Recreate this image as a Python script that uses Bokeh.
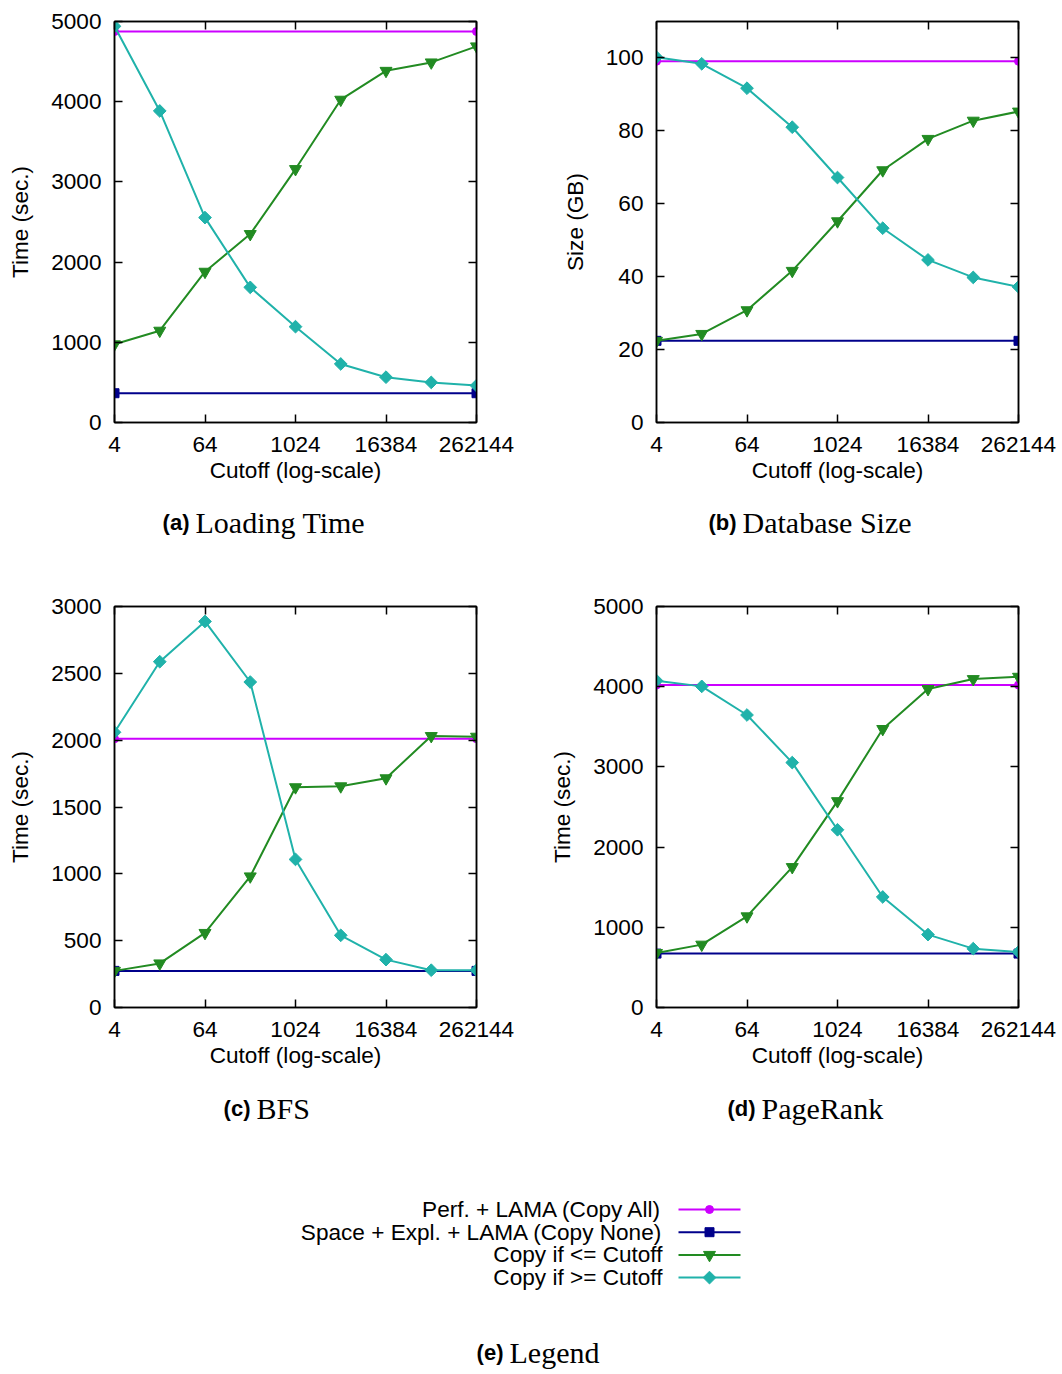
import numpy as np
from bokeh.plotting import figure
from bokeh.models import Range1d, FixedTicker, LinearAxis, LogAxis, NumeralTickFormatter
from bokeh.layouts import column, row
from bokeh.embed import file_html
from bokeh.resources import INLINE
from bokeh.core.properties import value

# ---------------- data ----------------
cutoffs = [4, 16, 64, 256, 1024, 4096, 16384, 65536, 262144]
x_ends = [4, 262144]
x_ticks = [4, 64, 1024, 16384, 262144]

load_copy_all = [4875, 4875]
load_copy_none = [365, 365]
load_le = [975, 1145, 1880, 2350, 3160, 4025, 4385, 4490, 4690]
load_ge = [4940, 3885, 2555, 1685, 1195, 730, 565, 500, 460]

size_copy_all = [99.1, 99.1]
size_copy_none = [22.4, 22.4]
size_le = [22.4, 24.3, 30.8, 41.6, 55.2, 69.2, 77.8, 82.8, 85.3]
size_ge = [100.2, 98.4, 91.7, 81.0, 67.2, 53.3, 44.6, 39.8, 37.2]

bfs_copy_all = [2010, 2010]
bfs_copy_none = [274, 274]
bfs_le = [274, 330, 558, 981, 1648, 1655, 1715, 2031, 2026]
bfs_ge = [2059, 2587, 2888, 2435, 1108, 540, 358, 279, 279]

pr_copy_all = [4021, 4021]
pr_copy_none = [672, 672]
pr_le = [680, 784, 1137, 1751, 2573, 3473, 3971, 4095, 4124]
pr_ge = [4075, 4004, 3647, 3054, 2216, 1378, 909, 734, 693]

series_names = ["Perf. + LAMA (Copy All)", "Space + Expl. + LAMA (Copy None)",
                "Copy if <= Cutoff", "Copy if >= Cutoff"]
series_colors = ["#cc00ff", "#00008b", "#228b22", "#20b2aa"]
series_markers = ["circle", "square", "inverted_triangle", "square"]
series_angles = [0.0, 0.0, 0.0, np.pi / 4]
series_sizes = [8, 9, 12, 9]

captions = [("(a)", "Loading Time"), ("(b)", "Database Size"),
            ("(c)", "BFS"), ("(d)", "PageRank"), ("(e)", "Legend")]

SANS = "Liberation Sans"
SERIF = "Liberation Serif"
FS = "22.6px"
PAGE_W = 1062


def style_axis(ax, standoff, label_standoff):
    ax.major_tick_in = 8
    ax.major_tick_out = 0
    ax.minor_tick_in = 0
    ax.minor_tick_out = 0
    ax.axis_line_color = "black"
    ax.axis_line_width = 1.5
    ax.major_tick_line_color = "black"
    ax.major_tick_line_width = 1.5
    ax.major_label_text_font = SANS
    ax.major_label_text_font_size = FS
    ax.major_label_text_color = "black"
    ax.major_label_standoff = standoff
    ax.axis_label_text_font = SANS
    ax.axis_label_text_font_size = FS
    ax.axis_label_text_font_style = "normal"
    ax.axis_label_text_color = "black"
    ax.axis_label_standoff = label_standoff


def mirror_axis(cls, ticker):
    ax = cls(ticker=ticker)
    ax.major_tick_in = 8
    ax.major_tick_out = 0
    ax.minor_tick_in = 0
    ax.minor_tick_out = 0
    ax.axis_line_color = "black"
    ax.axis_line_width = 1.5
    ax.major_tick_line_width = 1.5
    ax.major_label_text_font_size = "1px"
    ax.major_label_text_color = None
    ax.major_label_standoff = 0
    return ax


def panel(ylabel, y_max, y_ticks, copy_all, copy_none, le, ge, bl, br, bt, bb):
    p = figure(frame_width=362, frame_height=401, x_axis_type="log",
               x_range=Range1d(4, 262144), y_range=Range1d(0, y_max),
               output_backend="svg", toolbar_location=None,
               min_border_left=bl, min_border_right=br,
               min_border_top=bt, min_border_bottom=bb)
    p.grid.visible = False
    p.outline_line_color = "black"
    p.outline_line_width = 1.5
    xa = p.below[0]
    ya = p.left[0]
    xa.ticker = FixedTicker(ticks=x_ticks)
    xa.formatter = NumeralTickFormatter(format="0")
    xa.axis_label = "Cutoff (log-scale)"
    ya.ticker = FixedTicker(ticks=y_ticks)
    ya.axis_label = ylabel
    style_axis(xa, 14, 3)
    style_axis(ya, 13, 15)
    p.add_layout(mirror_axis(LinearAxis, FixedTicker(ticks=y_ticks)), "right")
    p.add_layout(mirror_axis(LogAxis, FixedTicker(ticks=x_ticks)), "above")

    data = [(x_ends, copy_all), (x_ends, copy_none), (cutoffs, le), (cutoffs, ge)]
    for (xs, ys), c, m, a, s in zip(data, series_colors, series_markers,
                                    series_angles, series_sizes):
        p.line(xs, ys, line_color=c, line_width=2)
        p.scatter(xs, ys, marker=m, angle=a, size=s, fill_color=c, line_color=c)
    return p


def blank_fig(y0, y1):
    p = figure(width=PAGE_W, height=y1 - y0, x_range=Range1d(0, PAGE_W),
               y_range=Range1d(y1, y0), output_backend="svg",
               toolbar_location=None, x_axis_location=None, y_axis_location=None,
               min_border=0)
    p.grid.visible = False
    p.outline_line_color = None
    return p


def add_caption(p, tag, title, xs, yc):
    p.text(x=[xs - 2], y=[yc], text=[tag], text_font=value(SANS),
           text_font_style="bold", text_font_size="22px", text_align="right",
           text_baseline="middle", text_color="black")
    p.text(x=[xs + 4], y=[yc], text=[title], text_font=value(SERIF),
           text_font_size="30px", text_align="left",
           text_baseline="middle", text_color="black")


pa = panel("Time (sec.)", 5000, [0, 1000, 2000, 3000, 4000, 5000],
           load_copy_all, load_copy_none, load_le, load_ge, 114, 54, 21, 78)
pb = panel("Size (GB)", 110, [0, 20, 40, 60, 80, 100],
           size_copy_all, size_copy_none, size_le, size_ge, 126, 44, 21, 78)
pc = panel("Time (sec.)", 3000, [0, 500, 1000, 1500, 2000, 2500, 3000],
           bfs_copy_all, bfs_copy_none, bfs_le, bfs_ge, 114, 54, 61, 78)
pd = panel("Time (sec.)", 5000, [0, 1000, 2000, 3000, 4000, 5000],
           pr_copy_all, pr_copy_none, pr_le, pr_ge, 126, 44, 61, 78)

cap1 = blank_fig(500, 545)
add_caption(cap1, *captions[0], 191, 522)
add_caption(cap1, *captions[1], 738, 522)
cap2 = blank_fig(1085, 1130)
add_caption(cap2, *captions[2], 252, 1108)
add_caption(cap2, *captions[3], 757, 1108)

# legend block (page pixel coordinates)
leg = blank_fig(1130, 1374)
row_y0, row_dy = 1209, 22.7
for i, (name, c, m, a, s) in enumerate(zip(series_names, series_colors, series_markers,
                                            series_angles, series_sizes)):
    yy = row_y0 + i * row_dy
    leg.text(x=[662], y=[yy], text=[name], text_font=value(SANS), text_font_size=FS,
             text_align="right", text_baseline="middle", text_color="black")
    leg.line([678, 740], [yy, yy], line_color=c, line_width=2)
    leg.scatter([709], [yy], marker=m, angle=a, size=s, fill_color=c, line_color=c)
add_caption(leg, *captions[4], 505, 1352)

layout = column(row(pa, pb), cap1, row(pc, pd), cap2, leg)

open("out.html", "w").write(file_html(layout, INLINE))
